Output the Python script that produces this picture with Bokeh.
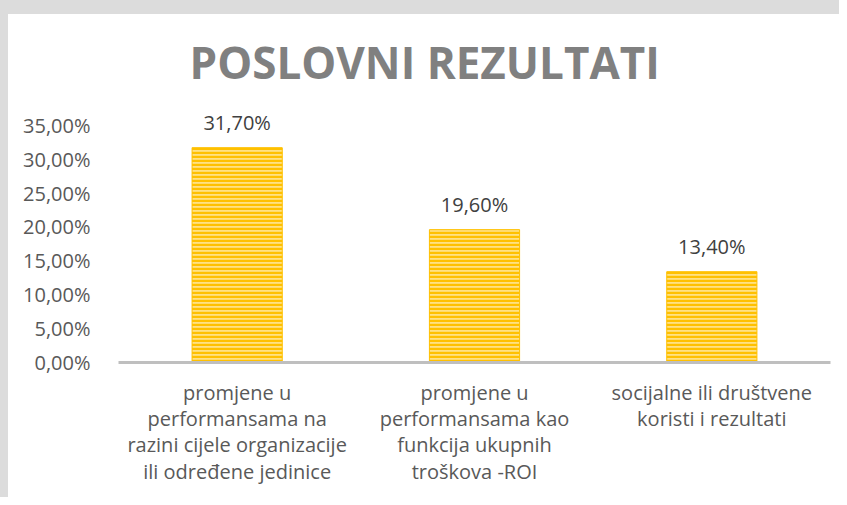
from bokeh.plotting import figure
from bokeh.models import ColumnDataSource, FixedTicker, LabelSet, Label
from bokeh.core.properties import value
from bokeh.embed import file_html
from bokeh.resources import INLINE

# ---- data ----
categories = [
    "promjene u\nperformansama na\nrazini cijele organizacije\nili određene jedinice",
    "promjene u\nperformansama kao\nfunkcija ukupnih\ntroškova -ROI",
    "socijalne ili društvene\nkoristi i rezultati",
]
values = [31.70, 19.60, 13.40]
value_labels = ["31,70%", "19,60%", "13,40%"]
tick_values = [0, 5, 10, 15, 20, 25, 30, 35]
tick_labels = ["0,00%", "5,00%", "10,00%", "15,00%", "20,00%", "25,00%", "30,00%", "35,00%"]
title_text = "POSLOVNI REZULTATI"

FONT = "Open Sans"

src = ColumnDataSource(dict(cat=categories, val=values, lab=value_labels))

p = figure(
    x_range=categories, y_range=(0, 51.2),
    width=839, height=497,
    output_backend="svg", toolbar_location=None,
    min_border_left=110, min_border_right=17, min_border_top=1, min_border_bottom=149,
    styles={"border-left": "8px solid #DCDCDC", "border-top": "14px solid #DCDCDC"},
)
p.outline_line_color = None
p.background_fill_color = "white"
p.border_fill_color = "white"
p.xgrid.grid_line_color = None
p.ygrid.grid_line_color = None
p.x_range.range_padding = 0.0

p.vbar(x="cat", top="val", width=0.38, source=src,
       fill_color="#FFE184", line_color="#FFC000", line_width=1,
       hatch_pattern="horizontal_line", hatch_color="#FFC000",
       hatch_scale=4, hatch_weight=2.4)

labels = LabelSet(x="cat", y="val", text="lab", source=src,
                  text_align="center", text_baseline="alphabetic",
                  y_offset=18, text_font=value(FONT), text_font_size=value("20px"),
                  text_color="#404040")
p.add_layout(labels)

# y axis
p.yaxis.ticker = FixedTicker(ticks=tick_values)
p.yaxis.major_label_overrides = {v: t for v, t in zip(tick_values, tick_labels)}
p.yaxis.axis_line_color = None
p.yaxis.major_tick_line_color = None
p.yaxis.minor_tick_line_color = None
p.yaxis.major_label_standoff = 22
p.yaxis.major_label_text_font = FONT
p.yaxis.major_label_text_font_size = "20px"
p.yaxis.major_label_text_color = "#595959"

# x axis
p.xaxis.axis_line_color = "#BFBFBF"
p.xaxis.axis_line_width = 3
p.xaxis.major_tick_line_color = None
p.xaxis.minor_tick_line_color = None
p.xaxis.major_label_standoff = 10
p.xaxis.major_label_text_font = FONT
p.xaxis.major_label_text_font_size = "20px"
p.xaxis.major_label_text_color = "#595959"
p.xaxis.major_label_text_line_height = 0.98

# title
title = Label(x=1.29, y=44.4, text=title_text,
              text_align="center", text_baseline="alphabetic",
              text_font=FONT, text_font_style="bold", text_font_size="44px",
              text_color="#808080")
p.add_layout(title)

open("out.html", "w").write(file_html(p, INLINE))
